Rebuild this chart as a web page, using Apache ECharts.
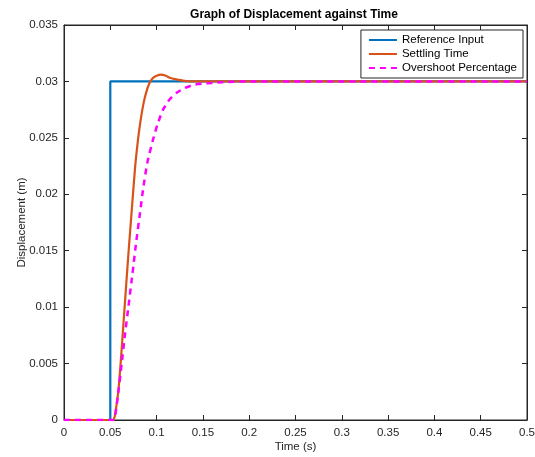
<!DOCTYPE html>
<html><head><meta charset="utf-8">
<script src="https://cdn.jsdelivr.net/npm/echarts@6/dist/echarts.min.js"></script>
<style>html,body{margin:0;padding:0;background:#fff}#c{width:535px;height:457px}</style>
</head><body><div id="c"></div>
<script>
const titleText = 'Graph of Displacement against Time';
const xName = 'Time (s)';
const yName = 'Displacement (m)';
const seriesNames = ['Reference Input', 'Settling Time', 'Overshoot Percentage'];

const referenceInput = [[0,0],[0.05,0],[0.05,0.03],[0.5,0.03]];
const settlingTime = [
  [0,0],[0.053,0],[0.055,0.0004],[0.057,0.0015],[0.059,0.0028],[0.0616,0.0055],
  [0.064,0.0083],[0.067,0.0118],[0.070,0.0152],[0.0742,0.0197],[0.077,0.0226],
  [0.080,0.0249],[0.083,0.0267],[0.086,0.0281],[0.089,0.0291],[0.092,0.0298],
  [0.096,0.0303],[0.100,0.0305],[0.105,0.0306],[0.110,0.0305],[0.115,0.0303],
  [0.120,0.0302],[0.130,0.03005],[0.140,0.03],[0.5,0.03]
];
const overshootPercentage = [
  [0,0],[0.053,0],[0.055,0.0003],[0.058,0.002],[0.0623,0.005],[0.066,0.0077],
  [0.0695,0.0100],[0.074,0.013],[0.078,0.0158],[0.082,0.0183],[0.0855,0.0205],
  [0.090,0.0228],[0.096,0.0248],[0.101,0.0262],[0.107,0.0275],[0.114,0.0284],
  [0.1217,0.0290],[0.13,0.0294],[0.14,0.0297],[0.15,0.0298],[0.17,0.02993],
  [0.2,0.03],[0.5,0.03]
];

const font = 'Liberation Sans, Arial, sans-serif';
const axCol = '#262626';
const chart = echarts.init(document.getElementById('c'), null, {renderer:'canvas'});
const boxAxis = {
  show:true,
  axisLine:{show:true, onZero:false, lineStyle:{color:axCol, width:1}},
  axisTick:{show:true, inside:true, length:5, lineStyle:{color:axCol}},
  axisLabel:{show:false}, splitLine:{show:false}
};
chart.setOption({
  animation:false,
  backgroundColor:'#fff',
  title:{text:titleText, left:289, textAlign:'center', top:4,
    textStyle:{fontFamily:font, fontSize:12, fontWeight:'bold', color:'#000'}},
  legend:{
    right:12, top:30, orient:'vertical', itemWidth:28, itemHeight:10, itemGap:2,
    backgroundColor:'#fff', borderColor:'#262626', borderWidth:1, padding:[4,6,4,7],
    itemStyle:{opacity:0},
    textStyle:{fontFamily:font, fontSize:11.5, color:'#000'},
    data:seriesNames
  },
  grid:{left:64, right:8, top:25, bottom:37, containLabel:false, outerBoundsMode:'none',
    show:true, borderColor:axCol, borderWidth:1, backgroundColor:'transparent'},
  xAxis:[{
    type:'value', min:0, max:0.5, interval:0.05,
    name:xName, nameLocation:'middle', nameGap:21, nameMoveOverlap:false,
    nameTextStyle:{fontFamily:font, fontSize:11.5, color:axCol},
    axisLine:{show:true, onZero:false, lineStyle:{color:axCol, width:1}},
    axisTick:{show:true, inside:true, length:5, lineStyle:{color:axCol}},
    axisLabel:{fontFamily:font, fontSize:11.5, color:axCol, margin:7},
    splitLine:{show:false}
  }, Object.assign({type:'value', min:0, max:0.5, interval:0.05, position:'top'}, boxAxis)],
  yAxis:[{
    type:'value', min:0, max:0.035, interval:0.005,
    name:yName, nameLocation:'middle', nameGap:36, nameMoveOverlap:false,
    nameTextStyle:{fontFamily:font, fontSize:11.5, color:axCol},
    axisLine:{show:true, onZero:false, lineStyle:{color:axCol, width:1}},
    axisTick:{show:true, inside:true, length:5, lineStyle:{color:axCol}},
    axisLabel:{fontFamily:font, fontSize:11.5, color:axCol, margin:6,
      formatter:v => String(+v.toFixed(4))},
    splitLine:{show:false}
  }, Object.assign({type:'value', min:0, max:0.035, interval:0.005, position:'right'}, boxAxis)],
  series:[
    {name:seriesNames[0], type:'line', data:referenceInput, symbol:'none',
      lineStyle:{color:'#0072BD', width:2.2}, itemStyle:{color:'#0072BD'}, z:2},
    {name:seriesNames[1], type:'line', data:settlingTime, symbol:'none', smooth:0.2,
      lineStyle:{color:'#D95319', width:2.2}, itemStyle:{color:'#D95319'}, z:3},
    {name:seriesNames[2], type:'line', data:overshootPercentage, symbol:'none', smooth:0.2,
      lineStyle:{color:'#FF00FF', width:2.5, type:[6,5]}, itemStyle:{color:'#FF00FF'}, z:4},
    {type:'line', xAxisIndex:1, yAxisIndex:1, data:[], silent:true}
  ]
});
</script></body></html>
